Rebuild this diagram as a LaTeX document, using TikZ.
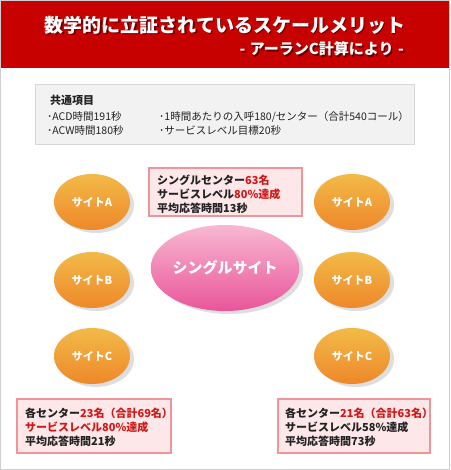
\documentclass[tikz,border=0pt]{standalone}
\usepackage{fontspec}
\setmainfont{Noto Sans CJK JP}
\usetikzlibrary{shapes.geometric,shadows}
\definecolor{hdrred}{HTML}{C70000}
\definecolor{framegray}{HTML}{CFCFCF}
\definecolor{boxgray}{HTML}{F3F2F2}
\definecolor{boxline}{HTML}{D8D8D8}
\definecolor{pinkfill}{HTML}{FDE7E9}
\definecolor{pinkline}{HTML}{F0939A}
\definecolor{txtred}{HTML}{D01818}
\definecolor{txtdark}{HTML}{222222}
\definecolor{orgtop}{HTML}{F2BA48}
\definecolor{orgbot}{HTML}{EE882A}
\definecolor{pnktop}{HTML}{F8B8D2}
\definecolor{pnkbot}{HTML}{E9559A}
\tikzset{
  titletext/.style={text=white,font=\fontsize{19}{22}\selectfont\bfseries,inner sep=0},
  subtext/.style={text=white,font=\fontsize{15}{17}\selectfont\bfseries,inner sep=0},
  commontext/.style={text=txtdark,font=\fontsize{10.5}{12}\selectfont,inner sep=0,anchor=west},
  infobox/.style={draw=pinkline,line width=1.2pt,fill=pinkfill,
    drop shadow={shadow xshift=1pt,shadow yshift=-1pt,fill=black!15,opacity=0.6}},
  infotext/.style={text=txtdark,font=\fontsize{11}{14}\selectfont\bfseries,inner sep=0,anchor=west,align=left},
  siteell/.style={ellipse,minimum width=76pt,minimum height=56pt,inner sep=0,
    top color=orgtop,bottom color=orgbot,
    text=white,font=\fontsize{11}{13}\selectfont\bfseries,
    drop shadow={shadow xshift=4pt,shadow yshift=-3pt,fill=black!25,opacity=0.5}},
  mainell/.style={ellipse,minimum width=130pt,minimum height=86pt,inner sep=0,
    top color=pnktop,bottom color=pnkbot,
    text=white,font=\fontsize{15}{18}\selectfont\bfseries,
    drop shadow={shadow xshift=4pt,shadow yshift=-3pt,fill=black!25,opacity=0.5}}
}
\begin{document}
\begin{tikzpicture}[x=1pt,y=-1pt]
\useasboundingbox (0,0) rectangle (450,470);
\fill[white] (0,0) rectangle (450,470);
\draw[framegray,line width=1pt] (0.5,0.5) rectangle (449.5,469.5);
\fill[hdrred] (1,1) rectangle (449,68);
% title with shadow
\node[titletext,text=black,opacity=0.45] (titleshadow) at (226.5,26.5) {数学的に立証されているスケールメリット};
\node[titletext] (title) at (225,25) {数学的に立証されているスケールメリット};
\node[subtext,text=black,opacity=0.45,anchor=east] (subshadow) at (405.5,50.5) {-\hspace{0.3em}アーランC計算により\hspace{0.3em}-};
\node[subtext,anchor=east] (subtitle) at (404,49) {-\hspace{0.3em}アーランC計算により\hspace{0.3em}-};
% common box
\node[draw=boxline,fill=boxgray,line width=0.8pt,minimum width=379pt,minimum height=60pt,inner sep=0] (common) at (224.5,114) {};
\node[commontext,font=\fontsize{11}{13}\selectfont\bfseries] (ctitle) at (50,100) {共通項目};
\node[commontext] (c11) at (47,117) {･ACD時間191秒};
\node[commontext] (c21) at (47,131) {･ACW時間180秒};
\node[commontext] (c12) at (159,117) {･1時間あたりの入呼180/センター（合計540コール）};
\node[commontext] (c22) at (159,131) {･サービスレベル目標20秒};
% ellipses
\node[siteell] (la) at (92,202) {サイトA};
\node[siteell] (lb) at (92,280) {サイトB};
\node[siteell] (lc) at (92,356) {サイトC};
\node[siteell] (ra) at (352,202) {サイトA};
\node[siteell] (rb) at (352,280) {サイトB};
\node[siteell] (rc) at (352,356) {サイトC};
\node[mainell] (main) at (225,268) {シングルサイト};
% info boxes
\node[infobox,minimum width=153pt,minimum height=48pt,inner sep=0] (topbox) at (225.5,192) {};
\node[infotext] (toptext) at (157,194) {シングルセンター{\color{txtred}63名}\\サービスレベル{\color{txtred}80\%達成}\\平均応答時間13秒};
\node[infobox,minimum width=154pt,minimum height=54pt,inner sep=0] (lbox) at (94,426) {};
\node[infotext] (ltext) at (25,427) {各センター{\color{txtred}23名（合計69名）}\\{\color{txtred}サービスレベル80\%達成}\\平均応答時間21秒};
\node[infobox,minimum width=152pt,minimum height=54pt,inner sep=0] (rbox) at (354,426) {};
\node[infotext] (rtext) at (285,427) {各センター{\color{txtred}21名（合計63名）}\\サービスレベル58\%達成\\平均応答時間73秒};
\end{tikzpicture}
\end{document}
